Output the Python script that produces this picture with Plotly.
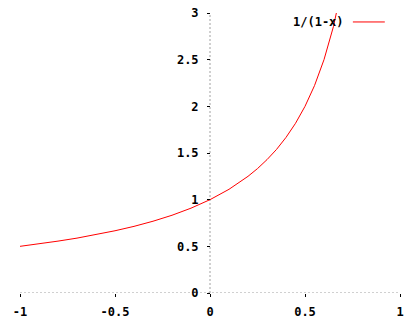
import plotly.graph_objects as go

x_vals = [-1.0, -0.9, -0.8, -0.7, -0.6, -0.5, -0.4, -0.3, -0.2, -0.1,
          0.0, 0.1, 0.2, 0.25, 0.3, 0.35, 0.4, 0.45, 0.5, 0.55, 0.6, 0.65, 0.7]
y_vals = [0.5, 0.526, 0.556, 0.588, 0.625, 0.667, 0.714, 0.769, 0.833, 0.909,
          1.0, 1.111, 1.25, 1.333, 1.429, 1.538, 1.667, 1.818, 2.0, 2.222, 2.5, 2.857, 3.333]
x_ticks = [-1, -0.5, 0, 0.5, 1]
x_tick_text = ["-1", "-0.5", "0", "0.5", "1"]
y_ticks = [0, 0.5, 1, 1.5, 2, 2.5, 3]
y_tick_text = ["0", "0.5", "1", "1.5", "2", "2.5", "3"]
series_name = "1/(1-x)"

FONT = dict(family="DejaVu Sans Mono", size=12, color="black")

fig = go.Figure()
fig.add_trace(go.Scatter(x=x_vals, y=y_vals, mode="lines",
                         line=dict(color="#ff0000", width=1),
                         name=series_name, showlegend=False))

grey = dict(color="#a0a0a0", width=1, dash="2px,2px")
fig.add_shape(type="line", x0=-1, x1=1, y0=0, y1=0, xref="x", yref="y", line=grey, layer="below")
fig.add_shape(type="line", x0=0, x1=0, y0=0, y1=3, xref="x", yref="y", line=grey, layer="below")

# legend: text + red sample line, top right
fig.add_annotation(x=0.857, y=0.968, xref="paper", yref="paper", text="<b>" + series_name + "</b>",
                   showarrow=False, xanchor="right", yanchor="middle", font=FONT)
fig.add_shape(type="line", x0=0.876, x1=0.96, y0=0.968, y1=0.968, xref="paper", yref="paper",
              line=dict(color="#ff0000", width=1))

fig.update_layout(
    width=420, height=320,
    margin=dict(l=20, r=20, t=13, b=27, autoexpand=False),
    paper_bgcolor="white", plot_bgcolor="white",
    font=FONT,
    xaxis=dict(range=[-1, 1], tickvals=x_ticks, ticktext=["<b>%s</b>" % t for t in x_tick_text],
               showgrid=False, zeroline=False, showline=False, automargin=False,
               ticks="outside", ticklen=3, tickcolor="black", tickfont=FONT,
               ticklabelstandoff=5),
    yaxis=dict(range=[0, 3], tickvals=y_ticks, ticktext=["<b>%s</b>" % t for t in y_tick_text],
               showgrid=False, zeroline=False, showline=False, automargin=False,
               anchor="free", position=0.5, side="left",
               ticks="outside", ticklen=3, tickcolor="black", tickfont=FONT,
               ticklabelstandoff=6),
)

fig.write_html("out.html")
